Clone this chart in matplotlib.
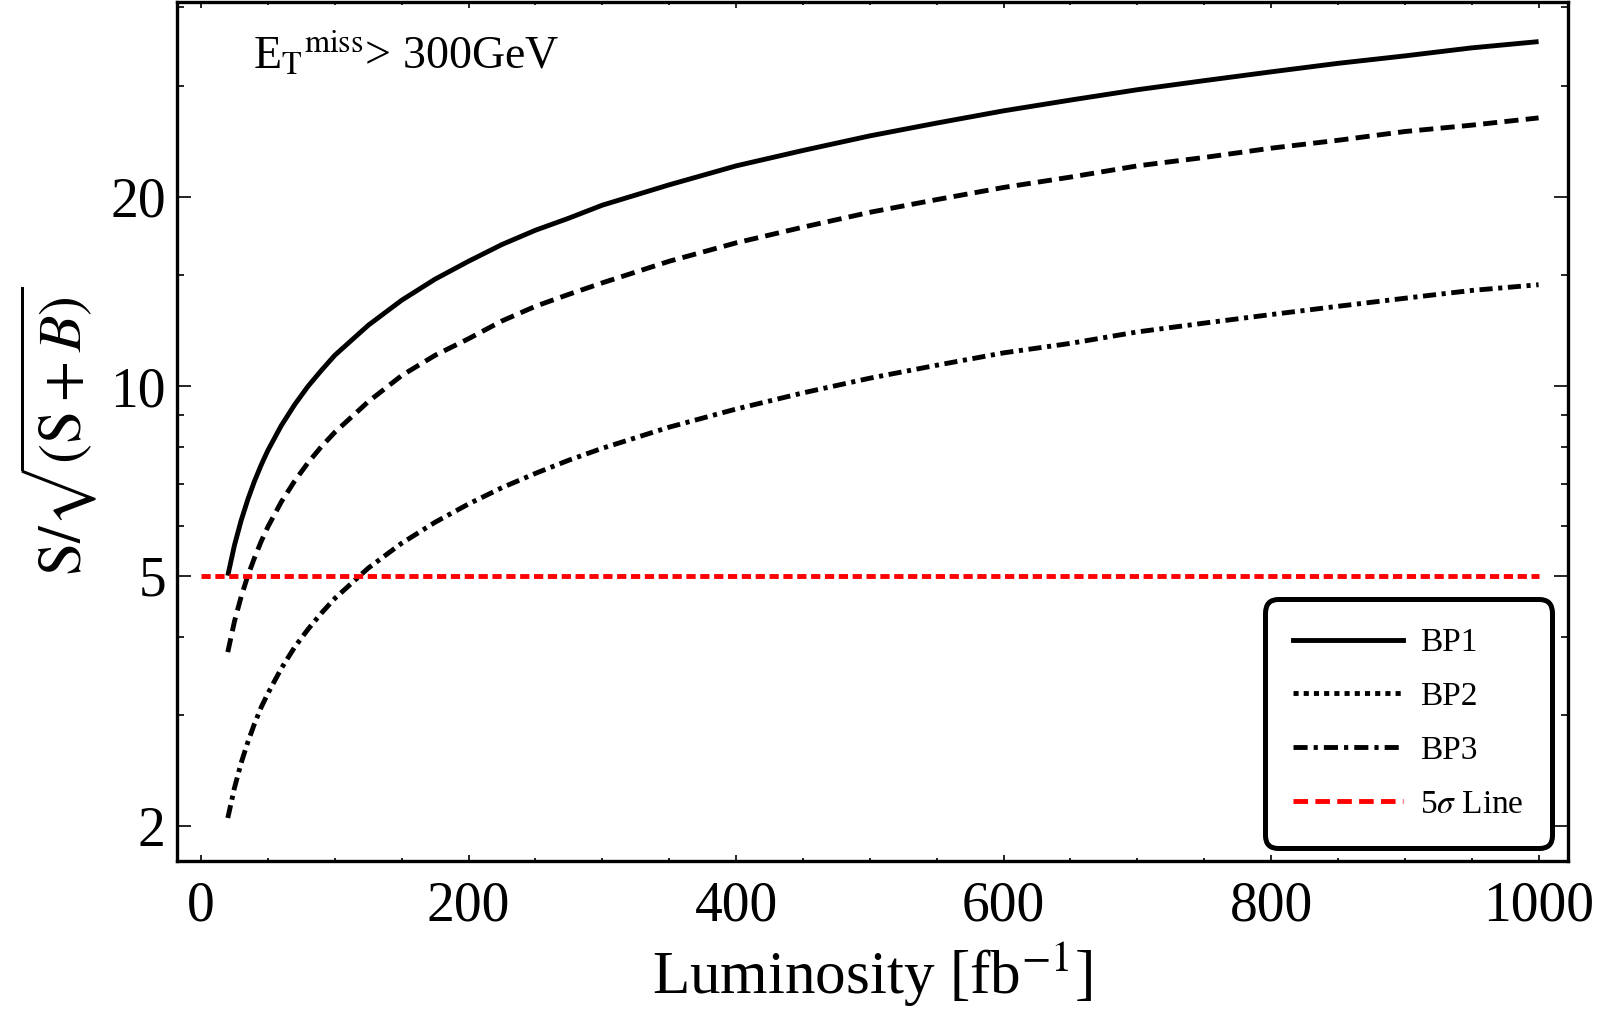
import matplotlib
matplotlib.use('Agg')
import matplotlib.pyplot as plt
from matplotlib.lines import Line2D
from matplotlib.ticker import FixedLocator, NullFormatter

# luminosity points [fb^-1] and significance
lumi = [20, 25, 30, 35, 40, 45, 50, 60, 70, 80, 90, 100, 125, 150, 175, 200,
        225, 250, 275, 300, 350, 400, 450, 500, 550, 600, 650, 700, 750, 800,
        850, 900, 950, 1000]
bp1 = [5.00, 5.59, 6.12, 6.61, 7.07, 7.50, 7.91, 8.66, 9.35, 10.0, 10.6, 11.2,
       12.5, 13.7, 14.8, 15.8, 16.8, 17.7, 18.5, 19.4, 20.9, 22.4, 23.7, 25.0,
       26.2, 27.4, 28.5, 29.6, 30.6, 31.6, 32.6, 33.5, 34.5, 35.3]
bp2 = [3.78, 4.23, 4.63, 5.00, 5.34, 5.67, 5.98, 6.55, 7.07, 7.56, 8.02, 8.45,
       9.45, 10.4, 11.2, 11.9, 12.7, 13.4, 14.0, 14.6, 15.8, 16.9, 17.9, 18.9,
       19.8, 20.7, 21.5, 22.4, 23.1, 23.9, 24.6, 25.4, 26.0, 26.7]
bp3 = [2.06, 2.30, 2.52, 2.72, 2.91, 3.09, 3.25, 3.56, 3.85, 4.11, 4.36, 4.60,
       5.14, 5.63, 6.08, 6.50, 6.90, 7.27, 7.63, 7.97, 8.61, 9.20, 9.76, 10.3,
       10.8, 11.3, 11.7, 12.2, 12.6, 13.0, 13.4, 13.8, 14.2, 14.5]
sigma_x = [0, 1000]
sigma_y = [5, 5]
x_major = [0, 200, 400, 600, 800, 1000]
y_major = [2, 5, 10, 20]
y_minor = [3, 4, 6, 7, 8, 9, 15, 30, 40]

plt.rcParams['font.family'] = ['Liberation Serif', 'DejaVu Serif']
plt.rcParams['mathtext.fontset'] = 'stix'

fig = plt.figure(figsize=(16, 10.17), dpi=100)
ax = fig.add_axes([0.1106, 0.1534, 0.8694, 0.8446])

lw = 3.5
ax.plot(lumi, bp1, color='black', lw=lw, solid_capstyle='butt', solid_joinstyle='round')
ax.plot(lumi, bp2, color='black', lw=lw, dashes=(2.9, 1.5))
ax.plot(lumi, bp3, color='black', lw=lw, dashes=(2.7, 1.15, 0.85, 1.15))
ax.plot(sigma_x, sigma_y, color='#ff0000', lw=lw, dashes=(1.9, 0.95))

ax.set_yscale('log')
ax.set_xlim(-18, 1022)
ax.set_ylim(1.76, 40.8)

ax.xaxis.set_major_locator(FixedLocator(x_major))
ax.xaxis.set_minor_locator(FixedLocator(range(0, 1001, 50)))
ax.yaxis.set_major_locator(FixedLocator(y_major))
ax.yaxis.set_minor_locator(FixedLocator(y_minor))
ax.yaxis.set_major_formatter(plt.FixedFormatter([str(v) for v in y_major]))
ax.yaxis.set_minor_formatter(NullFormatter())

ax.tick_params(axis='both', which='both', direction='in', top=True, right=True,
               labelsize=40, width=1.2)
ax.tick_params(axis='y', which='major', length=10, pad=8)
ax.tick_params(axis='y', which='minor', length=5)
ax.tick_params(axis='x', which='major', length=4, pad=14)
ax.tick_params(axis='x', which='minor', length=2.5)
for s in ax.spines.values():
    s.set_linewidth(2.4)

ax.set_xlabel(r'Luminosity [fb$^{-1}$]', fontsize=44, labelpad=6)
ax.set_ylabel(r'$\mathrm{S}/\sqrt{(\mathrm{S}+B)}$', fontsize=43, labelpad=8)

ax.text(0.055, 0.922, r'E$_\mathrm{T}$$^\mathrm{miss}$> 300GeV', transform=ax.transAxes,
        fontsize=33, va='baseline', ha='left')

# legend styles as drawn in the original (they differ from the curves)
handles = [
    Line2D([], [], color='black', lw=lw),
    Line2D([], [], color='black', lw=lw, dashes=(1.05, 1.05)),
    Line2D([], [], color='black', lw=lw, dashes=(2.9, 1.25, 0.85, 1.25)),
    Line2D([], [], color='#ff0000', lw=lw, dashes=(3.0, 1.5)),
]
labels = ['BP1', 'BP2', 'BP3', r'5$\sigma$ Line']
leg = ax.legend(handles, labels, loc='lower right', bbox_to_anchor=(0.9885, 0.0151),
                borderaxespad=0, fontsize=24, handlelength=3.3, handletextpad=0.5,
                labelspacing=0.7, borderpad=0.85, fancybox=True, framealpha=1)
frame = leg.get_frame()
frame.set_edgecolor('black')
frame.set_linewidth(3.6)
frame.set_boxstyle('round', pad=0, rounding_size=0.4)

fig.savefig('out.png', dpi=100)
